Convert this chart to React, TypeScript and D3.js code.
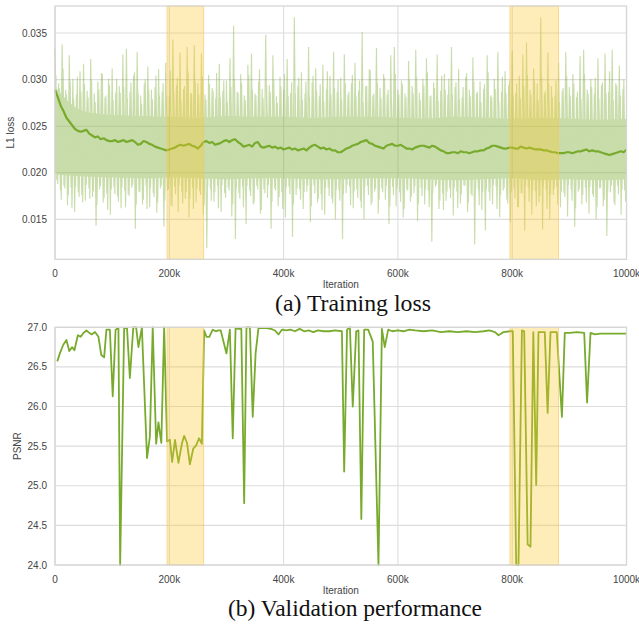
import * as d3 from 'd3';

// raw training loss: local peaks / troughs of the noisy trace, one pair every 6.25k iterations
const RAW_STEP = 6250;
const rawPeaks = [
  0.0333, 0.0296, 0.0338, 0.0289, 0.0326, 0.0301, 0.0284, 0.0309, 0.0317, 0.0288,
  0.0322, 0.0285, 0.0298, 0.0307, 0.0281, 0.0301, 0.0312, 0.0286, 0.0293, 0.0327,
  0.0333, 0.0287, 0.0304, 0.0330, 0.0283, 0.0296, 0.0314, 0.0289, 0.0292, 0.0311,
  0.0287, 0.0318, 0.0282, 0.0343, 0.0294, 0.0329, 0.0290, 0.0335, 0.0286, 0.0337,
  0.0296, 0.0328, 0.0284, 0.0305, 0.0291, 0.0280, 0.0317, 0.0288, 0.0299, 0.0323,
  0.0358, 0.0287, 0.0306, 0.0283, 0.0316, 0.0328, 0.0285, 0.0298, 0.0290, 0.0348,
  0.0294, 0.0326, 0.0282, 0.0303, 0.0289, 0.0322, 0.0286, 0.0367, 0.0293, 0.0308,
  0.0285, 0.0335, 0.0297, 0.0312, 0.0282, 0.0316, 0.0290, 0.0304, 0.0330, 0.0287,
  0.0302, 0.0327, 0.0284, 0.0296, 0.0318, 0.0288, 0.0351, 0.0293, 0.0311, 0.0283,
  0.0334, 0.0291, 0.0306, 0.0284, 0.0326, 0.0335, 0.0289, 0.0299, 0.0285, 0.0320,
  0.0293, 0.0332, 0.0286, 0.0301, 0.0323, 0.0282, 0.0297, 0.0327, 0.0288, 0.0306,
  0.0284, 0.0335, 0.0292, 0.0311, 0.0281, 0.0303, 0.0289, 0.0324, 0.0285, 0.0298,
  0.0290, 0.0326, 0.0283, 0.0301, 0.0330, 0.0287, 0.0309, 0.0294, 0.0331, 0.0286,
  0.0304, 0.0327, 0.0340, 0.0289, 0.0312, 0.0296, 0.0367, 0.0285, 0.0329, 0.0293,
  0.0283, 0.0318, 0.0288, 0.0330, 0.0292, 0.0306, 0.0281, 0.0325, 0.0332, 0.0289,
  0.0301, 0.0285, 0.0323, 0.0294, 0.0328, 0.0287, 0.0332, 0.0296, 0.0315, 0.0290,
];
const rawTroughs = [
  0.0192, 0.0181, 0.0186, 0.0165, 0.0184, 0.0158, 0.0179, 0.0176, 0.0170, 0.0183,
  0.0174, 0.0143, 0.0182, 0.0168, 0.0178, 0.0155, 0.0185, 0.0175, 0.0162, 0.0181,
  0.0177, 0.0184, 0.0140, 0.0180, 0.0166, 0.0186, 0.0163, 0.0178, 0.0157, 0.0183,
  0.0142, 0.0181, 0.0165, 0.0185, 0.0158, 0.0179, 0.0172, 0.0152, 0.0184, 0.0168,
  0.0180, 0.0155, 0.0119, 0.0183, 0.0169, 0.0186, 0.0158, 0.0178, 0.0184, 0.0153,
  0.0129, 0.0178, 0.0185, 0.0145, 0.0181, 0.0166, 0.0186, 0.0156, 0.0182, 0.0173,
  0.0140, 0.0183, 0.0164, 0.0179, 0.0152, 0.0185, 0.0131, 0.0176, 0.0182, 0.0161,
  0.0180, 0.0147, 0.0186, 0.0168, 0.0177, 0.0155, 0.0184, 0.0172, 0.0150, 0.0181,
  0.0129, 0.0178, 0.0185, 0.0162, 0.0182, 0.0170, 0.0150, 0.0186, 0.0165, 0.0180,
  0.0156, 0.0183, 0.0171, 0.0145, 0.0185, 0.0164, 0.0179, 0.0152, 0.0182, 0.0169,
  0.0178, 0.0148, 0.0184, 0.0166, 0.0181, 0.0126, 0.0185, 0.0161, 0.0178, 0.0170,
  0.0183, 0.0154, 0.0180, 0.0167, 0.0186, 0.0158, 0.0177, 0.0123, 0.0182, 0.0160,
  0.0138, 0.0179, 0.0166, 0.0185, 0.0152, 0.0181, 0.0171, 0.0147, 0.0183, 0.0163,
  0.0178, 0.0138, 0.0184, 0.0155, 0.0180, 0.0168, 0.0139, 0.0182, 0.0150, 0.0176,
  0.0185, 0.0163, 0.0178, 0.0153, 0.0182, 0.0142, 0.0180, 0.0166, 0.0184, 0.0156,
  0.0177, 0.0150, 0.0183, 0.0164, 0.0132, 0.0179, 0.0168, 0.0186, 0.0155, 0.0181,
];
// second, lower-amplitude set of peaks / troughs, shifted by a quarter step
const rawPeaksB = [
  0.0305, 0.0291, 0.0312, 0.0284, 0.0298, 0.0279, 0.0303, 0.0287, 0.0295, 0.0281,
  0.0299, 0.0276, 0.0290, 0.0306, 0.0283, 0.0294, 0.0278, 0.0301, 0.0286, 0.0292,
  0.0280, 0.0297, 0.0308, 0.0285, 0.0274, 0.0300, 0.0289, 0.0279, 0.0304, 0.0283,
  0.0296, 0.0282, 0.0310, 0.0288, 0.0302, 0.0277, 0.0293, 0.0309, 0.0285, 0.0298,
  0.0284, 0.0303, 0.0279, 0.0295, 0.0288, 0.0307, 0.0281, 0.0299, 0.0276, 0.0292,
  0.0301, 0.0286, 0.0296, 0.0278, 0.0305, 0.0289, 0.0283, 0.0311, 0.0280, 0.0294,
  0.0287, 0.0300, 0.0275, 0.0293, 0.0306, 0.0282, 0.0297, 0.0285, 0.0302, 0.0278,
  0.0298, 0.0281, 0.0304, 0.0288, 0.0295, 0.0277, 0.0309, 0.0284, 0.0291, 0.0300,
  0.0279, 0.0296, 0.0287, 0.0305, 0.0282, 0.0299, 0.0276, 0.0293, 0.0310, 0.0285,
  0.0297, 0.0280, 0.0302, 0.0289, 0.0275, 0.0306, 0.0284, 0.0295, 0.0281, 0.0300,
  0.0286, 0.0303, 0.0278, 0.0294, 0.0308, 0.0283, 0.0291, 0.0277, 0.0304, 0.0289,
  0.0301, 0.0284, 0.0297, 0.0279, 0.0292, 0.0307, 0.0282, 0.0298, 0.0287, 0.0276,
  0.0295, 0.0308, 0.0281, 0.0290, 0.0277, 0.0303, 0.0286, 0.0299, 0.0283, 0.0296,
  0.0280, 0.0293, 0.0305, 0.0284, 0.0298, 0.0278, 0.0302, 0.0288, 0.0295, 0.0281,
  0.0299, 0.0276, 0.0291, 0.0304, 0.0283, 0.0296, 0.0287, 0.0279, 0.0306, 0.0285,
  0.0292, 0.0302, 0.0280, 0.0297, 0.0286, 0.0309, 0.0278, 0.0294, 0.0283, 0.0300,
];
const rawTroughsB = [
  0.0188, 0.0171, 0.0183, 0.0176, 0.0162, 0.0185, 0.0174, 0.0168, 0.0187, 0.0172,
  0.0180, 0.0165, 0.0186, 0.0173, 0.0160, 0.0182, 0.0177, 0.0169, 0.0184, 0.0163,
  0.0175, 0.0187, 0.0166, 0.0179, 0.0171, 0.0161, 0.0184, 0.0174, 0.0168, 0.0186,
  0.0170, 0.0182, 0.0164, 0.0177, 0.0187, 0.0167, 0.0180, 0.0172, 0.0161, 0.0183,
  0.0176, 0.0165, 0.0185, 0.0170, 0.0179, 0.0162, 0.0187, 0.0173, 0.0181, 0.0166,
  0.0184, 0.0172, 0.0163, 0.0186, 0.0175, 0.0168, 0.0182, 0.0160, 0.0178, 0.0187,
  0.0169, 0.0181, 0.0174, 0.0161, 0.0185, 0.0177, 0.0166, 0.0183, 0.0171, 0.0179,
  0.0186, 0.0164, 0.0178, 0.0172, 0.0160, 0.0184, 0.0175, 0.0167, 0.0182, 0.0170,
  0.0177, 0.0187, 0.0165, 0.0180, 0.0173, 0.0162, 0.0185, 0.0176, 0.0168, 0.0183,
  0.0171, 0.0179, 0.0186, 0.0164, 0.0176, 0.0183, 0.0169, 0.0161, 0.0181, 0.0174,
  0.0185, 0.0167, 0.0175, 0.0182, 0.0163, 0.0178, 0.0187, 0.0170, 0.0160, 0.0180,
  0.0173, 0.0184, 0.0162, 0.0177, 0.0186, 0.0168, 0.0175, 0.0183, 0.0165, 0.0179,
  0.0182, 0.0170, 0.0187, 0.0161, 0.0176, 0.0184, 0.0167, 0.0179, 0.0172, 0.0163,
  0.0178, 0.0186, 0.0169, 0.0181, 0.0164, 0.0175, 0.0185, 0.0161, 0.0177, 0.0183,
  0.0166, 0.0180, 0.0174, 0.0187, 0.0170, 0.0162, 0.0182, 0.0176, 0.0168, 0.0185,
  0.0174, 0.0163, 0.0184, 0.0171, 0.0179, 0.0186, 0.0165, 0.0177, 0.0182, 0.0169,
];

// dense part of the raw band, every 50k
const coreUpper = [0.0292, 0.0266, 0.0262, 0.0261, 0.0260, 0.0259, 0.0261, 0.0260, 0.0260, 0.0259, 0.0260,
  0.0260, 0.0259, 0.0258, 0.0260, 0.0259, 0.0258, 0.0259, 0.0258, 0.0257, 0.0258];
const coreLower = [0.0198, 0.0196, 0.0195, 0.0194, 0.0195, 0.0194, 0.0193, 0.0194, 0.0194, 0.0193, 0.0193,
  0.0194, 0.0194, 0.0193, 0.0192, 0.0193, 0.0194, 0.0192, 0.0193, 0.0192, 0.0193];

// smoothed training loss, every 5k
const smoothLoss = [
  0.0289, 0.0281, 0.0272, 0.0266, 0.0259, 0.0255, 0.0251, 0.0247, 0.0245, 0.0244,
  0.0245, 0.0246, 0.0242, 0.0240, 0.0238, 0.0239, 0.0236, 0.0237, 0.0235, 0.0234,
  0.0234, 0.0235, 0.0233, 0.0234, 0.0235, 0.0233, 0.0234, 0.0235, 0.0233, 0.0230,
  0.0231, 0.0234, 0.0233, 0.0231, 0.0230, 0.0228, 0.0227, 0.0226, 0.0225, 0.0224,
  0.0225, 0.0226, 0.0227, 0.0229, 0.0230, 0.0229, 0.0230, 0.0231, 0.0229, 0.0228,
  0.0226, 0.0229, 0.0233, 0.0234, 0.0232, 0.0233, 0.0230, 0.0231, 0.0232, 0.0234,
  0.0235, 0.0233, 0.0235, 0.0236, 0.0233, 0.0231, 0.0228, 0.0229, 0.0230, 0.0228,
  0.0232, 0.0233, 0.0228, 0.0227, 0.0228, 0.0229, 0.0227, 0.0228, 0.0226, 0.0227,
  0.0225, 0.0226, 0.0227, 0.0225, 0.0226, 0.0224, 0.0225, 0.0226, 0.0224, 0.0227,
  0.0229, 0.0230, 0.0228, 0.0226, 0.0227, 0.0225, 0.0226, 0.0224, 0.0224, 0.0222,
  0.0222, 0.0224, 0.0226, 0.0227, 0.0229, 0.0230, 0.0231, 0.0233, 0.0234, 0.0235,
  0.0232, 0.0231, 0.0229, 0.0228, 0.0227, 0.0226, 0.0229, 0.0230, 0.0231, 0.0229,
  0.0229, 0.0230, 0.0228, 0.0226, 0.0226, 0.0225, 0.0227, 0.0228, 0.0229, 0.0229,
  0.0228, 0.0227, 0.0229, 0.0228, 0.0226, 0.0224, 0.0223, 0.0221, 0.0221, 0.0222,
  0.0222, 0.0221, 0.0223, 0.0222, 0.0222, 0.0221, 0.0222, 0.0223, 0.0223, 0.0224,
  0.0224, 0.0226, 0.0227, 0.0229, 0.0229, 0.0228, 0.0227, 0.0226, 0.0226, 0.0227,
  0.0227, 0.0226, 0.0226, 0.0228, 0.0227, 0.0226, 0.0227, 0.0226, 0.0225, 0.0225,
  0.0225, 0.0224, 0.0224, 0.0223, 0.0222, 0.0222, 0.0221, 0.0221, 0.0221, 0.0222,
  0.0222, 0.0221, 0.0222, 0.0223, 0.0223, 0.0224, 0.0225, 0.0223, 0.0224, 0.0223,
  0.0223, 0.0222, 0.0221, 0.0220, 0.0219, 0.0220, 0.0221, 0.0222, 0.0223, 0.0222,
  0.0225,
];

// validation PSNR (iteration in k, value)
const psnrIter = [
  4, 9, 14.5, 20, 25, 30, 34, 40, 45, 50, 55, 60, 64, 70, 76, 81, 86, 90, 96, 101,
  106, 111, 114, 121, 126, 131, 137, 142, 146, 152, 161, 166, 171, 177, 181, 186, 191, 196, 201, 205,
  210, 216, 222, 226, 231, 236, 242, 247, 252, 257, 261, 265, 270, 276, 281, 286, 290, 300, 306, 311,
  316, 321, 326, 331, 335, 341, 346, 351, 356, 364, 370, 378, 385, 391, 397, 405, 412, 420, 428, 436,
  444, 452, 460, 470, 480, 490, 502, 506, 511, 516, 521, 527, 531, 536, 541, 548, 556, 566, 572, 577,
  583, 590, 600, 610, 620, 630, 645, 660, 675, 690, 705, 720, 735, 750, 760, 770, 776, 785, 796, 801,
  807, 811, 817, 821, 827, 832, 837, 842, 846, 852, 857, 862, 867, 873, 878, 887, 892, 901, 913, 926,
  931, 937, 945, 954, 970, 985, 1000,
];
const psnrValue = [
  26.57, 26.68, 26.78, 26.84, 26.70, 26.75, 26.71, 26.90, 26.88, 26.93, 26.96, 26.93, 26.91, 26.94, 26.88, 26.65, 26.62, 26.97, 26.97, 26.13,
  26.97, 26.99, 24.0, 26.99, 26.99, 26.36, 27.0, 27.0, 26.75, 27.0, 25.35, 25.62, 27.0, 25.53, 25.80, 25.54, 27.0, 25.56, 25.58, 25.30,
  25.58, 25.29, 25.53, 25.63, 25.54, 25.27, 25.47, 25.51, 25.60, 25.53, 26.96, 26.88, 26.88, 26.97, 26.95, 26.96, 26.96, 26.67, 26.97, 25.60,
  26.99, 26.98, 26.98, 24.78, 27.0, 27.0, 25.87, 26.67, 26.99, 26.99, 26.99, 26.98, 26.96, 26.91, 26.97, 26.96, 26.97, 26.95, 26.98, 26.95,
  26.96, 26.94, 26.96, 26.95, 26.95, 26.96, 26.95, 25.18, 26.97, 27.0, 26.00, 26.95, 26.96, 24.58, 26.97, 26.97, 26.82, 24.0, 26.98, 26.75,
  26.97, 26.95, 26.96, 26.95, 26.97, 26.96, 26.95, 26.96, 26.94, 26.95, 26.94, 26.95, 26.94, 26.95, 26.96, 26.94, 26.90, 26.94, 26.95, 26.95,
  24.0, 24.0, 26.96, 26.95, 24.26, 24.23, 26.94, 25.01, 26.94, 26.94, 26.94, 25.92, 26.94, 26.94, 26.94, 25.87, 26.93, 26.93, 26.94, 26.93,
  26.05, 26.93, 26.91, 26.92, 26.92, 26.92, 26.92,
];

// highlighted iteration ranges
const highlightSpans = [[196000, 260000], [796000, 881000]];

const xTicks = [0, 200000, 400000, 600000, 800000, 1000000];
const xTickLabels = ['0', '200k', '400k', '600k', '800k', '1000k'];
const lossTicks = [0.015, 0.02, 0.025, 0.03, 0.035];
const psnrTicks = [24.0, 24.5, 25.0, 25.5, 26.0, 26.5, 27.0];

const GREEN = '#78ab2d';
const GRID = '#dddddd';
const TICK_FONT = '"Liberation Sans", Arial, sans-serif';
const CAP_FONT = '"Liberation Serif", "Times New Roman", serif';

const X0 = 55;
const X1 = 626.5;

function Panel({ top, bottom, yScale, ticks, fmt, ylabel, ylabelX, children }) {
  const x = d3.scaleLinear().domain([0, 1000000]).range([X0, X1]);
  return (
    <g>
      {/* grid */}
      {ticks.map((t) => (
        <line key={'h' + t} x1={X0} x2={X1} y1={yScale(t)} y2={yScale(t)} stroke={GRID} strokeWidth={1.1} />
      ))}
      {xTicks.map((t) => (
        <line key={'v' + t} x1={x(t)} x2={x(t)} y1={top} y2={bottom} stroke={GRID} strokeWidth={1.1} />
      ))}
      {children(x)}
      {highlightSpans.map(([a, b]) => (
        <rect key={a} x={x(a)} y={top} width={x(b) - x(a)} height={bottom - top}
          fill="#ffc72c" fillOpacity={0.33} stroke="#f2c65a" strokeOpacity={0.6} strokeWidth={1} />
      ))}
      <rect x={X0} y={top} width={X1 - X0} height={bottom - top} fill="none" stroke="#d6d6d6" strokeWidth={1.3} />
      {ticks.map((t) => (
        <text key={'yl' + t} x={47} y={yScale(t)} dy="0.35em" textAnchor="end"
          fontFamily={TICK_FONT} fontSize={10} fill="#444">{fmt(t)}</text>
      ))}
      {xTicks.map((t, i) => (
        <text key={'xl' + t} x={x(t)} y={bottom + 17.5} textAnchor="middle"
          fontFamily={TICK_FONT} fontSize={10} fill="#444">{xTickLabels[i]}</text>
      ))}
      <text x={(X0 + X1) / 2} y={bottom + 29} textAnchor="middle" fontFamily={TICK_FONT} fontSize={10} fill="#444">Iteration</text>
      <text transform={`translate(${ylabelX},${(top + bottom) / 2}) rotate(-90)`} textAnchor="middle" dy="0.35em"
        fontFamily={TICK_FONT} fontSize={10} fill="#444">{ylabel}</text>
    </g>
  );
}

export default function App() {
  const yLoss = d3.scaleLinear().domain([0.01071, 0.0379]).range([259.3, 6]);
  const yPsnr = d3.scaleLinear().domain([24, 27]).range([565, 327.3]);

  const rawA = [];
  rawPeaks.forEach((p, i) => {
    rawA.push([i * RAW_STEP, p]);
    rawA.push([i * RAW_STEP + RAW_STEP / 2, rawTroughs[i]]);
  });
  const rawB = [];
  rawPeaksB.forEach((p, i) => {
    rawB.push([i * RAW_STEP + RAW_STEP / 4, p]);
    rawB.push([i * RAW_STEP + (RAW_STEP * 3) / 4, rawTroughsB[i]]);
  });

  return (
    <svg width={639} height={624} style={{ position: 'absolute', left: 0, top: 0, background: '#fff' }}>
      <Panel top={6} bottom={259.3} yScale={yLoss} ticks={lossTicks} fmt={d3.format('.3f')} ylabel="L1 loss" ylabelX={10.5}>
        {(x) => {
          const rawLine = d3.line().x((d) => x(d[0])).y((d) => yLoss(d[1]));
          const core = d3.area()
            .x((d, i) => x(i * 50000))
            .y0((d, i) => yLoss(coreLower[i]))
            .y1((d) => yLoss(d))
            .curve(d3.curveMonotoneX);
          const smooth = d3.line().x((d, i) => x(i * 5000)).y((d) => yLoss(d));
          return (
            <g>
              <g opacity={0.4}>
                <path d={core(coreUpper)} fill={GREEN} />
                <path d={rawLine(rawA)} fill="none" stroke={GREEN} strokeWidth={1.1} />
                <path d={rawLine(rawB)} fill="none" stroke={GREEN} strokeWidth={1.1} />
              </g>
              <path d={smooth(smoothLoss)} fill="none" stroke={GREEN} strokeWidth={2.2} strokeLinejoin="round" />
            </g>
          );
        }}
      </Panel>
      <text x={353} y={311} textAnchor="middle" fontFamily={CAP_FONT} fontSize={23.8} fill="#111">(a) Training loss</text>

      <Panel top={327.3} bottom={565} yScale={yPsnr} ticks={psnrTicks} fmt={d3.format('.1f')} ylabel="PSNR" ylabelX={17}>
        {(x) => {
          const line = d3.line().x((d) => x(d * 1000)).y((d, i) => yPsnr(psnrValue[i]));
          return (
            <path d={line(psnrIter)} fill="none" stroke={GREEN} strokeWidth={1.8} strokeLinejoin="round" />
          );
        }}
      </Panel>
      <text x={355} y={616} textAnchor="middle" fontFamily={CAP_FONT} fontSize={23.5} fill="#111">(b) Validation performance</text>
    </svg>
  );
}
